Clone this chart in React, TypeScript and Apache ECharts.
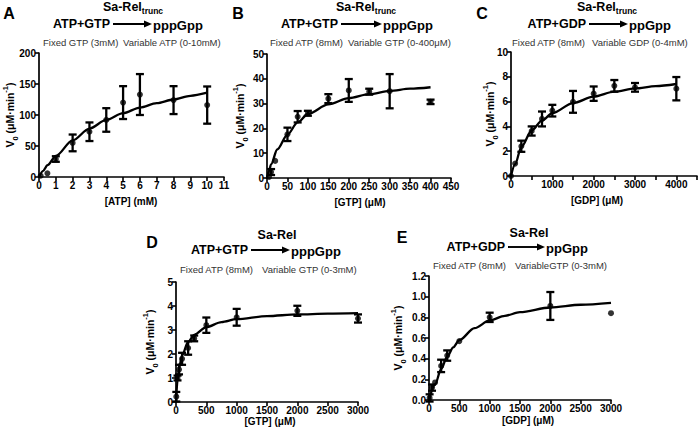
import React, { useEffect, useRef } from "react";
import * as echarts from "echarts";

const FONT = '"Liberation Sans", Arial, Helvetica, sans-serif';

// Panel A: fixed GTP, variable ATP (mM)
const aX = [0.1, 0.5, 1, 2, 3, 4, 5, 6, 8, 10];
const aMean = [2, 6, 29, 55, 73, 92, 120, 133, 124, 116];
const aSd = [0, 0, 4.5, 13.5, 15, 19, 26.5, 33, 22.5, 30];
const aFitX = [0, 0.25, 0.5, 1, 2, 3, 4, 5, 6, 7, 8, 9, 10];
const aFitY = [0, 10, 19, 34, 59, 78, 92, 103, 112, 119, 125, 131, 136];

// Panel B: fixed ATP, variable GTP (µM)
const bX = [5, 10, 20, 50, 75, 100, 150, 200, 250, 300, 400];
const bMean = [0.4, 2.4, 6.9, 17.6, 24.7, 26.1, 32, 35.3, 34.8, 35, 30.7];
const bSd = [0, 1.2, 0, 2.7, 2.3, 1, 1.8, 4.6, 1.2, 6.9, 0.9];
const bFitX = [0, 5, 10, 25, 50, 75, 100, 150, 200, 250, 300, 350, 400];
const bFitY = [0, 3, 5.5, 11.5, 17.5, 22.4, 25.8, 29.7, 32.2, 33.8, 35.1, 36, 36.6];

// Panel C: fixed ATP, variable GDP (µM)
const cX = [0, 100, 250, 500, 750, 1000, 1500, 2000, 2500, 3000, 4000];
const cMean = [0, 1.0, 2.4, 3.63, 4.6, 5.27, 5.98, 6.64, 7.27, 7.15, 7.04];
const cSd = [0, 0, 0.45, 0.37, 0.6, 0.47, 0.88, 0.58, 0.47, 0.35, 0.94];
const cFitX = [0, 100, 250, 500, 750, 1000, 1500, 2000, 2500, 3000, 3500, 4000];
const cFitY = [0, 0.95, 2.35, 3.67, 4.47, 5.07, 5.88, 6.4, 6.8, 7.06, 7.25, 7.42];

// Panel D: Sa-Rel, fixed ATP, variable GTP (µM)
const dX = [5, 25, 50, 100, 200, 300, 500, 1000, 2000, 3000];
const dMean = [0.22, 1.0, 1.35, 1.8, 2.25, 2.65, 3.2, 3.53, 3.8, 3.48];
const dSd = [0.2, 0.1, 0.2, 0.25, 0.28, 0.12, 0.32, 0.35, 0.21, 0.17];
const dFitX = [0, 25, 50, 100, 200, 300, 500, 750, 1000, 1500, 2000, 2500, 3000];
const dFitY = [0, 0.9, 1.4, 1.95, 2.5, 2.8, 3.12, 3.33, 3.45, 3.58, 3.65, 3.68, 3.7];

// Panel E: Sa-Rel, fixed ATP, variable GDP (µM)
const eX = [10, 50, 100, 200, 300, 500, 1000, 2000, 3000];
const eMean = [0.02, 0.12, 0.17, 0.33, 0.43, 0.57, 0.8, 0.91, 0.84];
const eSd = [0.035, 0.03, 0, 0.06, 0.05, 0, 0.045, 0.135, 0];
const eFitX = [0, 100, 200, 300, 400, 500, 750, 1000, 1250, 1500, 2000, 2500, 3000];
const eFitY = [0, 0.15, 0.3, 0.42, 0.51, 0.58, 0.695, 0.77, 0.815, 0.85, 0.895, 0.922, 0.94];

const panels = [
  { x: aX, m: aMean, s: aSd, fx: aFitX, fy: aFitY, grid: { left: 39, right: 476, top: 53, bottom: 261 },
    xr: [0, 11, 1], yr: [0, 200, 50] },
  { x: bX, m: bMean, s: bSd, fx: bFitX, fy: bFitY, grid: { left: 267, right: 249, top: 54, bottom: 260 },
    xr: [0, 450, 50], yr: [0, 50, 10] },
  { x: cX, m: cMean, s: cSd, fx: cFitX, fy: cFitY, grid: { left: 511, right: 2, top: 52, bottom: 262 },
    xr: [0, 4500, 500], yr: [0, 10, 2], xfmt: (v: number) => (v % 1000 === 0 && v <= 4000 ? String(v) : "") },
  { x: dX, m: dMean, s: dSd, fx: dFitX, fy: dFitY, grid: { left: 176, right: 342, top: 282, bottom: 36 },
    xr: [0, 3000, 500], yr: [0, 5, 1] },
  { x: eX, m: eMean, s: eSd, fx: eFitX, fy: eFitY, grid: { left: 429, right: 89, top: 276, bottom: 38 },
    xr: [0, 3000, 500], yr: [0, 1.2, 0.2], yfmt: (v: number) => v.toFixed(1) },
];

const axisCommon = {
  type: "value",
  axisLine: { show: true, onZero: false, lineStyle: { color: "#000", width: 1.7 } },
  axisTick: { show: true, inside: false, length: 4, lineStyle: { color: "#000", width: 1.6 } },
  splitLine: { show: false },
};

const labelStyle = { color: "#000", fontWeight: "bold", fontSize: 10, fontFamily: FONT };

function heading(cfg: any) {
  const { letter, lx, ly, enz, sub, ex, ey, left, lft, a1, a2, right, ry, fixed, fx, variable, vx, vy } = cfg;
  const els: any[] = [];
  els.push({ type: "text", x: lx, y: ly, style: { text: letter, font: `bold 16px ${FONT}`, fill: "#000", align: "center", verticalAlign: "middle" } });
  els.push({
    type: "text", x: ex, y: ey,
    style: {
      text: sub ? `{a|${enz}}{b|${sub}}` : `{a|${enz}}`,
      align: "center", verticalAlign: "middle", fill: "#000",
      rich: {
        a: { fontFamily: FONT, fontWeight: "bold", fontSize: 12.5, lineHeight: 18, verticalAlign: "middle", fill: "#000" },
        b: { fontFamily: FONT, fontWeight: "bold", fontSize: 8.5, lineHeight: 18, verticalAlign: "bottom", fill: "#000" },
      },
    },
  });
  els.push({ type: "text", x: a1 - 3, y: ry, style: { text: left, font: `bold 12.5px ${FONT}`, fill: "#000", align: "right", verticalAlign: "middle" } });
  els.push({ type: "line", shape: { x1: a1, y1: ry, x2: a2 - 5, y2: ry }, style: { stroke: "#000", lineWidth: 1.9 } });
  els.push({ type: "polygon", shape: { points: [[a2 - 8, ry - 3.5], [a2, ry], [a2 - 8, ry + 3.5]] }, style: { fill: "#000" } });
  els.push({ type: "text", x: a2 + 1, y: ry + 1, style: { text: right, font: `bold 13px ${FONT}`, fill: "#000", align: "left", verticalAlign: "middle" } });
  els.push({ type: "text", x: fx, y: vy, style: { text: fixed, font: `9.5px ${FONT}`, fill: "#333", align: "left", verticalAlign: "middle" } });
  els.push({ type: "text", x: vx, y: vy, style: { text: variable, font: `9.5px ${FONT}`, fill: "#333", align: "left", verticalAlign: "middle" } });
  return els;
}

function yLabel(x: number, y: number) {
  return {
    type: "text", x, y, rotation: Math.PI / 2,
    style: {
      text: "{v|V}{s|0}{v| (μM·min}{p|-1}{v|)}",
      align: "center", verticalAlign: "middle", fill: "#000",
      rich: {
        v: { fontFamily: FONT, fontWeight: "bold", fontSize: 10.5, lineHeight: 18, verticalAlign: "middle", fill: "#000" },
        s: { fontFamily: FONT, fontWeight: "bold", fontSize: 7.5, lineHeight: 18, verticalAlign: "bottom", fill: "#000" },
        p: { fontFamily: FONT, fontWeight: "bold", fontSize: 7.5, lineHeight: 18, verticalAlign: "top", fill: "#000" },
      },
    },
  };
}

function xLabel(x: number, y: number, t: string) {
  return { type: "text", x, y, style: { text: t, font: `bold 10px ${FONT}`, fill: "#000", align: "center", verticalAlign: "middle" } };
}

export default function App() {
  const ref = useRef<HTMLDivElement>(null);
  useEffect(() => {
    if (!ref.current) return;
    const chart = echarts.init(ref.current, undefined, { renderer: "svg" });
    const grid: any[] = [];
    const xAxis: any[] = [];
    const yAxis: any[] = [];
    const series: any[] = [];
    panels.forEach((p, i) => {
      grid.push({ ...p.grid, containLabel: false });
      xAxis.push({
        ...axisCommon, gridIndex: i, min: p.xr[0], max: p.xr[1], interval: p.xr[2],
        axisLabel: { ...labelStyle, margin: 3, showMaxLabel: true, formatter: p.xfmt || ((v: number) => String(v)) },
      });
      yAxis.push({
        ...axisCommon, gridIndex: i, min: p.yr[0], max: p.yr[1], interval: p.yr[2],
        axisLabel: { ...labelStyle, margin: 3, formatter: p.yfmt || ((v: number) => String(v)) },
      });
      series.push({
        type: "line", xAxisIndex: i, yAxisIndex: i, smooth: 0.3, smoothMonotone: "x", symbol: "none",
        lineStyle: { color: "#000", width: 2.3 }, data: p.fx.map((x, k) => [x, p.fy[k]]), z: 2,
      });
      series.push({
        type: "custom", xAxisIndex: i, yAxisIndex: i, encode: { x: 0, y: 1 },
        data: p.x.map((x, k) => [x, p.m[k], p.s[k]]), z: 3,
        renderItem: (params: any, api: any) => {
          const x = api.value(0), m = api.value(1), s = api.value(2);
          if (!s) return { type: "group", children: [] };
          const t = api.coord([x, m + s]);
          const b = api.coord([x, m - s]);
          const w = 4;
          const st = { stroke: "#000", lineWidth: 2.3 };
          return {
            type: "group",
            children: [
              { type: "line", shape: { x1: t[0], y1: t[1], x2: b[0], y2: b[1] }, style: st },
              { type: "line", shape: { x1: t[0] - w, y1: t[1], x2: t[0] + w, y2: t[1] }, style: st },
              { type: "line", shape: { x1: b[0] - w, y1: b[1], x2: b[0] + w, y2: b[1] }, style: st },
            ],
          };
        },
      });
      series.push({
        type: "scatter", xAxisIndex: i, yAxisIndex: i, symbol: "circle", symbolSize: 6,
        itemStyle: { color: "#000" }, data: p.x.map((x, k) => [x, p.m[k]]), z: 4,
      });
    });

    const graphic: any[] = [
      ...heading({ letter: "A", lx: 9, ly: 13, enz: "Sa-Rel", sub: "trunc", ex: 133, ey: 6.5, left: "ATP+GTP", a1: 113, a2: 152, right: "pppGpp", ry: 24, fixed: "Fixed GTP (3mM)", fx: 43, variable: "Variable ATP (0-10mM)", vx: 123, vy: 42 }),
      ...heading({ letter: "B", lx: 238, ly: 13, enz: "Sa-Rel", sub: "trunc", ex: 366, ey: 6.5, left: "ATP+GTP", a1: 341, a2: 382, right: "pppGpp", ry: 24, fixed: "Fixed ATP (8mM)", fx: 270, variable: "Variable GTP (0-400μM)", vx: 348, vy: 42 }),
      ...heading({ letter: "C", lx: 482, ly: 13, enz: "Sa-Rel", sub: "trunc", ex: 607, ey: 6.5, left: "ATP+GDP", a1: 589, a2: 628, right: "ppGpp", ry: 24, fixed: "Fixed ATP (8mM)", fx: 512, variable: "Variable GDP (0-4mM)", vx: 592, vy: 42 }),
      ...heading({ letter: "D", lx: 152, ly: 242, enz: "Sa-Rel", sub: "", ex: 277, ey: 235, left: "ATP+GTP", a1: 251, a2: 290, right: "pppGpp", ry: 250, fixed: "Fixed ATP (8mM)", fx: 180, variable: "Variable GTP (0-3mM)", vx: 262, vy: 269 }),
      ...heading({ letter: "E", lx: 402, ly: 237, enz: "Sa-Rel", sub: "", ex: 529, ey: 233, left: "ATP+GDP", a1: 508, a2: 545, right: "ppGpp", ry: 247, fixed: "Fixed ATP (8mM)", fx: 433, variable: "VariableGTP (0-3mM)", vx: 515, vy: 265 }),
      yLabel(10, 115), yLabel(240, 116), yLabel(490, 114), yLabel(150, 342), yLabel(398, 338),
      xLabel(131, 201, "[ATP] (mM)"), xLabel(360, 202, "[GTP] (μM)"), xLabel(597, 200, "[GDP] (μM)"),
      xLabel(270, 421, "[GTP] (μM)"), xLabel(528, 420, "[GDP] (μM)"),
    ];

    chart.setOption({
      animation: false,
      backgroundColor: "#fff",
      textStyle: { fontFamily: FONT },
      grid, xAxis, yAxis, series, graphic,
    });
    return () => chart.dispose();
  }, []);
  return <div ref={ref} style={{ position: "fixed", left: 0, top: 0, width: 700, height: 438 }} />;
}
